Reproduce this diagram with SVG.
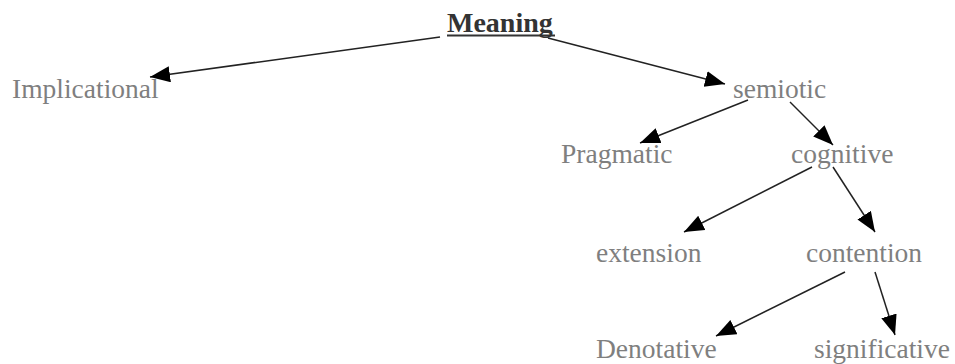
<svg xmlns="http://www.w3.org/2000/svg" width="955" height="364" viewBox="0 0 955 364">
<style>
.t{font-family:"Liberation Serif","Times New Roman",serif;font-size:27.5px;fill:#7f7f7f}
.root{font-family:"Liberation Serif","Times New Roman",serif;font-size:28px;font-weight:bold;fill:#333333}
.c{stroke:#222222;stroke-width:1.5;fill:none;marker-end:url(#ah)}
</style>
<defs>
<marker id="ah" markerUnits="userSpaceOnUse" markerWidth="22" markerHeight="18" refX="20" refY="8" orient="auto">
<path d="M0,0 L20,8 L0,16 z" fill="#000"/>
</marker>
</defs>
<rect width="955" height="364" fill="#fff"/>
<g id="connectors">
<line class="c" x1="440" y1="37" x2="150" y2="77"/>
<line class="c" x1="548" y1="38" x2="725" y2="84"/>
<line class="c" x1="748" y1="100" x2="640" y2="143"/>
<line class="c" x1="790" y1="102" x2="833" y2="145"/>
<line class="c" x1="812" y1="167" x2="684" y2="232"/>
<line class="c" x1="833" y1="167" x2="875" y2="232"/>
<line class="c" x1="845" y1="272" x2="716" y2="336"/>
<line class="c" x1="875" y1="272" x2="895" y2="335"/>
</g>
<g id="meaning">
<text class="root" x="447" y="32">Meaning</text>
<line x1="447" y1="35.5" x2="555" y2="35.5" stroke="#333" stroke-width="2"/>
</g>
<g id="implicational"><text class="t" x="12" y="98">Implicational</text></g>
<g id="semiotic"><text class="t" x="733" y="98">semiotic</text></g>
<g id="pragmatic"><text class="t" x="561" y="163">Pragmatic</text></g>
<g id="cognitive"><text class="t" x="791" y="163">cognitive</text></g>
<g id="extension"><text class="t" x="596" y="262">extension</text></g>
<g id="contention"><text class="t" x="806" y="262">contention</text></g>
<g id="denotative"><text class="t" x="596" y="358">Denotative</text></g>
<g id="significative"><text class="t" x="814" y="358">significative</text></g>
</svg>
